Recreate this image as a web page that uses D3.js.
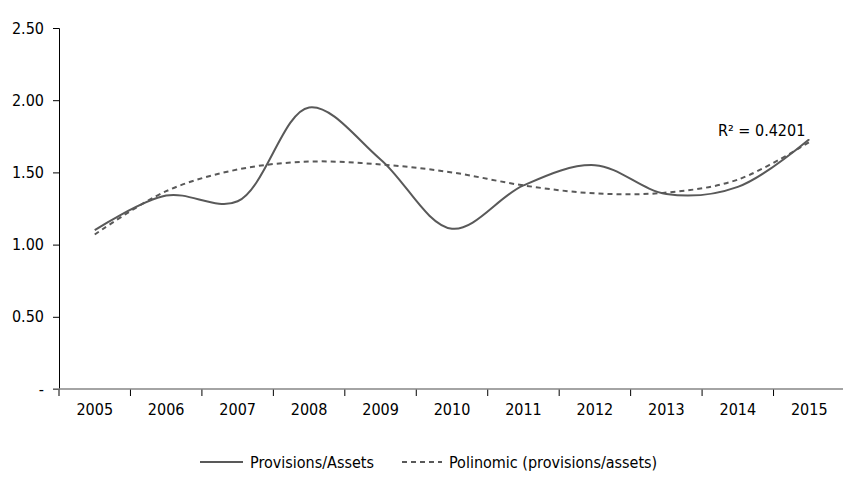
<!DOCTYPE html>
<html><head><meta charset="utf-8">
<script src="https://cdn.jsdelivr.net/npm/d3@7"></script>
<style>
body{margin:0;background:#fff;}
text{font-family:"DejaVu Sans Condensed","DejaVu Sans",sans-serif;font-stretch:condensed;fill:#000;}
</style></head>
<body><svg id="c" width="843" height="479"></svg>
<script>
const years = ["2005","2006","2007","2008","2009","2010","2011","2012","2013","2014","2015"];
const provisions = [1.10,1.34,1.30,1.95,1.59,1.11,1.41,1.55,1.35,1.40,1.73];
const polinomic = [1.07,1.37,1.52,1.575,1.555,1.50,1.41,1.355,1.36,1.45,1.71];
const yTicks = [0,0.5,1,1.5,2,2.5];
const yTickLabels = ["-","0.50","1.00","1.50","2.00","2.50"];
const seriesNames = ["Provisions/Assets","Polinomic (provisions/assets)"];
const r2Label = "R² = 0.4201";

(function(){
const svg = d3.select("#c");
const mLeft = 59, mRight = 845, mTop = 28, mBottom = 389;
const x = d3.scaleBand().domain(years).range([mLeft, mRight]);
const y = d3.scaleLinear().domain([0,2.5]).range([mBottom, mTop]);
const color = "#595959";

const ya = svg.append("g").attr("transform",`translate(${mLeft},0)`)
  .call(d3.axisLeft(y).tickValues(yTicks).tickFormat((d,i)=>yTickLabels[i]).tickSize(6).tickPadding(9));
ya.select(".domain").attr("stroke","#000");
ya.selectAll(".tick line").attr("stroke","#000");
ya.selectAll("text").style("font-size","16px").attr("fill","#000");

const xa = svg.append("g").attr("transform",`translate(0,${mBottom})`)
  .call(d3.axisBottom(x).tickSize(0).tickPadding(15));
xa.select(".domain").remove();
xa.selectAll("text").style("font-size","16px").attr("fill","#000");
const bounds = years.map(d=>x(d));
svg.append("g").selectAll("line").data(bounds).join("line")
  .attr("x1",d=>d).attr("x2",d=>d).attr("y1",mBottom).attr("y2",mBottom+7)
  .attr("stroke","#000").attr("stroke-width",1);
svg.append("line").attr("x1",mLeft-6).attr("x2",843).attr("y1",mBottom).attr("y2",mBottom)
  .attr("stroke","#868686").attr("stroke-width",1.5);

const cx = d=>x(d)+x.bandwidth()/2;
const line = d3.line().x((d,i)=>cx(years[i])).y(d=>y(d)).curve(d3.curveCatmullRom.alpha(0.5));

svg.append("path").datum(polinomic).attr("d",line).attr("fill","none")
  .attr("stroke",color).attr("stroke-width",2).attr("stroke-dasharray","5,4");
svg.append("path").datum(provisions).attr("d",line).attr("fill","none")
  .attr("stroke",color).attr("stroke-width",2);

svg.append("text").attr("x",718).attr("y",136).style("font-size","16px").text(r2Label);

const lg = svg.append("g");
lg.append("line").attr("x1",200).attr("x2",243).attr("y1",462).attr("y2",462).attr("stroke",color).attr("stroke-width",2);
lg.append("text").attr("x",250).attr("y",468).style("font-size","16px").text(seriesNames[0]);
lg.append("line").attr("x1",402).attr("x2",442).attr("y1",462).attr("y2",462).attr("stroke",color).attr("stroke-width",2).attr("stroke-dasharray","5,4");
lg.append("text").attr("x",449).attr("y",468).style("font-size","16px").text(seriesNames[1]);
})();
</script></body></html>
